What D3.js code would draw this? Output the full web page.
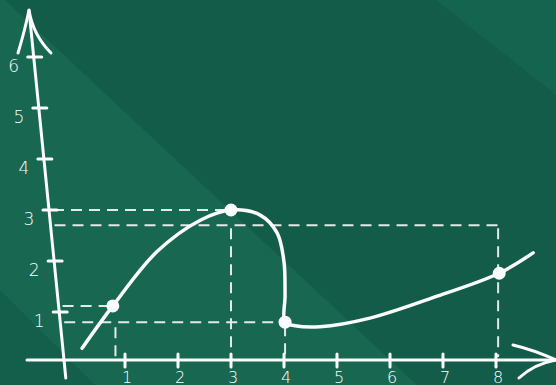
<!DOCTYPE html>
<html lang="en">
<head>
  <meta charset="UTF-8">
  <title>Chalkboard graph</title>
  <style>
    html, body { margin: 0; padding: 0; background: #135c4a; overflow: hidden; }
    svg { display: block; }
    text { font-family: "DejaVu Sans", sans-serif; font-weight: 200; fill: #ffffff; }
  </style>
</head>
<body>
  <svg width="556" height="385"></svg>

  <script src="https://cdn.jsdelivr.net/npm/d3@7/dist/d3.min.js"></script>
  <script>
    // tick labels
    const xTicks = [1, 2, 3, 4, 5, 6, 7, 8];
    const yTicks = [1, 2, 3, 4, 5, 6];

    // the hand-drawn curve
    const curveX = [0.19, 0.77, 1.60, 2.42, 3.0, 3.55, 3.87, 4.0, 4.02, 4.02, 4.21, 4.68, 5.62, 6.89, 8.06, 8.7];
    const curveY = [0.29, 1.12, 2.18, 2.80, 3.0, 2.9, 2.55, 1.98, 1.33, 0.8, 0.73, 0.71, 0.88, 1.31, 1.76, 2.16];

    // marked points
    const pointX = [0.77, 3.0, 4.02, 8.06];
    const pointY = [1.12, 3.0, 0.8, 1.76];

    // dashed guides: horizontal ones run from the y axis to guideEndX
    const guideLevel = [3.0, 2.7, 1.12, 0.8];
    const guideEndX = [3.0, 8.04, 0.77, 4.02];
    // vertical ones run from the x axis up to dropTop
    const dropX = [0.82, 3.0, 4.02, 8.04];
    const dropTop = [0.74, 2.68, 0.78, 2.68];

    const W = 556, H = 385;
    const svg = d3.select("svg");

    // chalkboard background with soft diagonal bands
    const light = "#176751", dark = "#135c4a";
    svg.append("rect").attr("width", W).attr("height", H).attr("fill", dark);
    svg.append("polygon").attr("points", `0,0 5,0 ${5 + 1.07 * H},${H} 0,${H}`).attr("fill", light);
    svg.append("polygon").attr("points", `0,290 ${H - 290},${H} 0,${H}`).attr("fill", "#145f4c");
    svg.append("polygon").attr("points", `436,0 ${W},0 ${W},95`).attr("fill", "#156450");

    const x = d3.scaleLinear().domain([0, 8]).range([72, 496]);
    const y = d3.scaleLinear().domain([0, 6]).range([363, 57]);
    const baseY = 360;
    // the y axis is drawn leaning; its x position depends on the height
    const axisXAt = py => 64 + (py - baseY) * 0.1;

    const chalk = "#fbfcfb";
    const g = svg.append("g").attr("fill", "none").attr("stroke-linecap", "round");

    // dashed guides
    const guides = g.append("g").attr("stroke", "#e3e9e6").attr("stroke-width", 2)
      .attr("stroke-dasharray", "11 7").attr("stroke-linecap", "butt");
    guideLevel.forEach((v, i) => {
      const py = y(v);
      guides.append("line")
        .attr("x1", axisXAt(py) + 4).attr("x2", x(guideEndX[i]))
        .attr("y1", py).attr("y2", py);
    });
    dropX.forEach((v, i) => {
      guides.append("line")
        .attr("x1", x(v)).attr("x2", x(v))
        .attr("y1", y(dropTop[i]) + 2).attr("y2", baseY - 3);
    });

    // x axis with arrow
    g.append("line").attr("x1", 27).attr("x2", W).attr("y1", baseY).attr("y2", baseY)
      .attr("stroke", chalk).attr("stroke-width", 3);
    g.append("path")
      .attr("d", `M${W - 43},${baseY - 15} Q${W - 22},${baseY - 10} ${W},${baseY} Q${W - 22},${baseY + 4} ${W - 37},${baseY + 18}`)
      .attr("stroke", chalk).attr("stroke-width", 3);
    xTicks.forEach(t => {
      g.append("line").attr("x1", x(t)).attr("x2", x(t)).attr("y1", baseY - 6).attr("y2", baseY + 7)
        .attr("stroke", chalk).attr("stroke-width", 3);
      svg.append("text").attr("x", x(t) + 2).attr("y", 377)
        .attr("text-anchor", "middle").attr("dominant-baseline", "central")
        .attr("font-size", 16).text(t);
    });

    // y axis (leaning) with arrow
    const topY = 10, botY = 378;
    g.append("line").attr("x1", axisXAt(botY)).attr("y1", botY).attr("x2", axisXAt(topY)).attr("y2", topY)
      .attr("stroke", chalk).attr("stroke-width", 3);
    const ax = axisXAt(topY);
    g.append("path")
      .attr("d", `M${ax - 11},53 Q${ax - 4},30 ${ax},${topY} Q${ax + 4},35 ${ax + 22},53`)
      .attr("stroke", chalk).attr("stroke-width", 3);
    yTicks.forEach(t => {
      const py = y(t), px = axisXAt(py);
      g.append("line").attr("x1", px - 6).attr("x2", px + 8).attr("y1", py).attr("y2", py)
        .attr("stroke", chalk).attr("stroke-width", 3);
      svg.append("text").attr("x", px - 20).attr("y", py + 9)
        .attr("text-anchor", "middle").attr("dominant-baseline", "central")
        .attr("font-size", 17).text(t);
    });

    // the curve
    const pts = curveX.map((v, i) => [v, curveY[i]]);
    const line = d3.line()
      .x(d => x(d[0]))
      .y(d => y(d[1]))
      .curve(d3.curveCatmullRom.alpha(0.5));
    g.append("path").datum(pts).attr("d", line)
      .attr("stroke", chalk).attr("stroke-width", 3.5);

    // marked points
    svg.append("g").selectAll("circle")
      .data(pointX.map((v, i) => [v, pointY[i]]))
      .join("circle")
      .attr("cx", d => x(d[0]))
      .attr("cy", d => y(d[1]))
      .attr("r", 6.5)
      .attr("fill", chalk);
  </script>
</body>
</html>
